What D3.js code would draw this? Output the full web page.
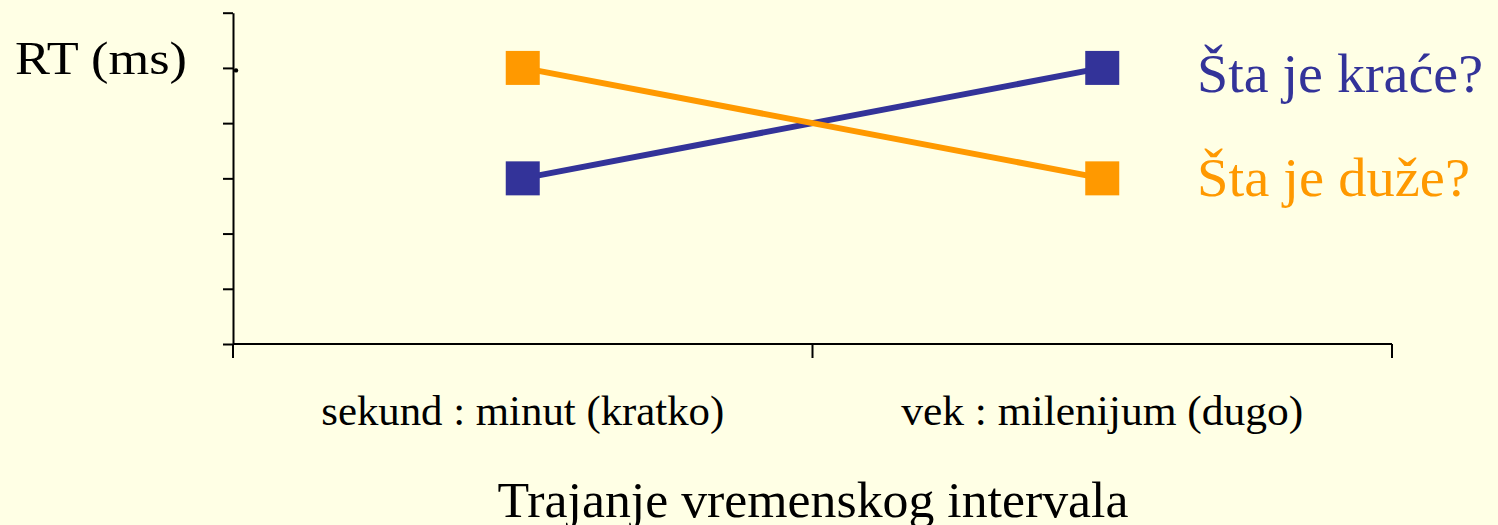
<!DOCTYPE html>
<html>
<head>
<meta charset="utf-8">
<script src="https://cdn.jsdelivr.net/npm/d3@7"></script>
<style>
  html, body { margin: 0; padding: 0; background: #FFFFE5; }
  svg { display: block; font-family: "Liberation Serif", "Times New Roman", serif; }
</style>
</head>
<body>
<svg id="svg"></svg>
<script>
////////////////////////////////////////////////////////////////////////
// Data

let categories = ["sekund : minut (kratko)", "vek : milenijum (dugo)"];
let seriesNames = ["Šta je kraće?", "Šta je duže?"];
let shorterValues = [3, 5];   // "Šta je kraće?"
let longerValues = [5, 3];    // "Šta je duže?"
let yTickValues = [0, 1, 2, 3, 4, 5, 6];
let yTitle = "RT (ms)";
let xTitle = "Trajanje vremenskog intervala";

let colors = ["#333399", "#FF9900"];

////////////////////////////////////////////////////////////////////////
// Layout

let winWidth = 1498;
let winHeight = 525;

let plot = { left: 233, right: 1392, top: 12.7, bottom: 344 };

let svg = d3.select("#svg")
            .attr("width", winWidth)
            .attr("height", winHeight);

svg.append("rect")
   .attr("width", winWidth).attr("height", winHeight)
   .attr("fill", "#FFFFE5");

let x = d3.scaleBand()
          .domain(categories)
          .range([plot.left, plot.right]);

let y = d3.scaleLinear()
          .domain([0, 6])
          .range([plot.bottom, plot.top]);

// the slide's text is a bit wider than Liberation Serif, so stretch it
function stretch(sel, w) {
  sel.attr("textLength", w).attr("lengthAdjust", "spacingAndGlyphs");
}

////////////////////////////////////////////////////////////////////////
// Axes

let yAxis = d3.axisLeft(y)
              .tickValues(yTickValues)
              .tickSize(10)
              .tickSizeOuter(0)
              .tickFormat("");

let gy = svg.append("g")
            .attr("transform", "translate(" + plot.left + ",0)")
            .call(yAxis);
gy.selectAll("path, line").attr("stroke", "black").attr("stroke-width", 2);

// x axis: baseline plus ticks at band edges
svg.append("line")
   .attr("x1", plot.left).attr("x2", plot.right)
   .attr("y1", y(0)).attr("y2", y(0))
   .attr("stroke", "black").attr("stroke-width", 2);

let edges = categories.map(function(c) { return x(c); });
edges.push(x.range()[1]);

svg.selectAll(".xtick")
   .data(edges)
   .enter()
   .append("line")
   .attr("class", "xtick")
   .attr("x1", function(d) { return d; })
   .attr("x2", function(d) { return d; })
   .attr("y1", y(0))
   .attr("y2", y(0) + 14)
   .attr("stroke", "black").attr("stroke-width", 2);

let labelWidths = [403, 402];
svg.selectAll(".xlabel")
   .data(categories)
   .enter()
   .append("text")
   .attr("class", "xlabel")
   .attr("x", function(d) { return x(d) + x.bandwidth() / 2; })
   .attr("y", 425)
   .attr("text-anchor", "middle")
   .attr("font-size", 42)
   .attr("fill", "black")
   .attr("textLength", function(d, i) { return labelWidths[i]; })
   .attr("lengthAdjust", "spacingAndGlyphs")
   .text(function(d) { return d; });

svg.append("text")
   .attr("x", 15).attr("y", 74)
   .attr("font-size", 46)
   .attr("fill", "black")
   .call(stretch, 172)
   .text(yTitle);

svg.append("text")
   .attr("x", (plot.left + plot.right) / 2 + 0.5).attr("y", 517)
   .attr("text-anchor", "middle")
   .attr("font-size", 50)
   .attr("fill", "black")
   .call(stretch, 631)
   .text(xTitle);

// stray dot beside the axis
svg.append("circle")
   .attr("cx", plot.left + 3).attr("cy", y(5) + 2.5)
   .attr("r", 2.2).attr("fill", "black");

////////////////////////////////////////////////////////////////////////
// Series

let series = [shorterValues, longerValues];
let line = d3.line()
             .x(function(d, i) { return x(categories[i]) + x.bandwidth() / 2; })
             .y(function(d) { return y(d); });

let markerSize = 34;

series.forEach(function(vals, s) {
  svg.append("path")
     .attr("d", line(vals))
     .attr("fill", "none")
     .attr("stroke", colors[s])
     .attr("stroke-width", 6);
});

series.forEach(function(vals, s) {
  svg.selectAll(".m" + s)
     .data(vals)
     .enter()
     .append("rect")
     .attr("class", "m" + s)
     .attr("x", function(d, i) { return x(categories[i]) + x.bandwidth() / 2 - markerSize / 2; })
     .attr("y", function(d) { return y(d) - markerSize / 2; })
     .attr("width", markerSize)
     .attr("height", markerSize)
     .attr("fill", colors[s]);
});

// legend text at right, next to the series' last values
let legendY = [92, 196];
let legendW = [286, 273];
seriesNames.forEach(function(name, s) {
  svg.append("text")
     .attr("x", 1197).attr("y", legendY[s])
     .attr("font-size", 54)
     .attr("fill", colors[s])
     .call(stretch, legendW[s])
     .text(name);
});
</script>
</body>
</html>
